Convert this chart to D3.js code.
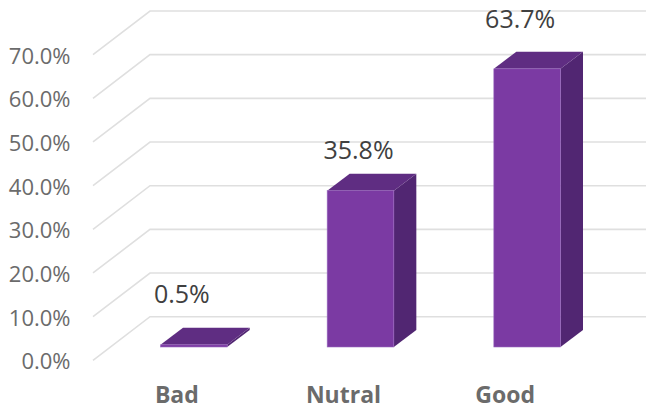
<!DOCTYPE html>
<html>
<head>
<meta charset="utf-8">
<script src="https://cdn.jsdelivr.net/npm/d3@7/dist/d3.min.js"></script>
<style>
  html, body { margin: 0; padding: 0; background: #fff; }
  svg { display: block; }
  text { font-family: "Open Sans", sans-serif; }
</style>
</head>
<body>
<svg id="chart" width="646" height="409"></svg>
<script>
const categories = ["Bad", "Nutral", "Good"];
const shares = [0.5, 35.8, 63.7];
const yTicks = [0, 10, 20, 30, 40, 50, 60, 70];

const width = 646, height = 409;

// Oblique projection: the wall sits behind the front plane by this offset.
const wallDepth = { dx: 57, dy: -43.6 };
// Bars stand part-way into the floor and have a shallower depth of their own.
const barInset = { dx: 17.5, dy: -13.3 };
const barDepth = { dx: 22.5, dy: -17 };

const y = d3.scaleLinear().domain([0, 70]).range([360.3, 54.6]);
const x = d3.scaleBand()
  .domain(categories)
  .range([93 + barInset.dx, 593 + barInset.dx])
  .paddingInner(0.6)
  .paddingOuter(0.3);

const svg = d3.select("#chart");

// Gridlines: a diagonal on the side wall, then a level run along the back wall.
const gridPath = d3.line();
svg.append("g")
  .selectAll("path")
  .data(yTicks)
  .join("path")
  .attr("d", t => gridPath([
    [93, y(t)],
    [93 + wallDepth.dx, y(t) + wallDepth.dy],
    [width, y(t) + wallDepth.dy]
  ]))
  .attr("fill", "none")
  .attr("stroke", "#dfdfdf")
  .attr("stroke-width", 1.6);

// Value axis: labels only, no domain line or tick marks.
const yAxis = d3.axisLeft(y)
  .tickValues(yTicks)
  .tickSize(0)
  .tickPadding(0)
  .tickFormat(t => t.toFixed(1) + "%");
const yAxisG = svg.append("g")
  .attr("transform", "translate(70.5,1.5)")
  .call(yAxis);
yAxisG.select(".domain").remove();
yAxisG.selectAll("text")
  .attr("fill", "#6b6b6b")
  .attr("font-size", 22)
  .style("font-family", '"Open Sans", sans-serif');

// Category axis: bold labels beneath the floor.
const xAxis = d3.axisBottom(x).tickSize(0).tickPadding(0);
const xAxisG = svg.append("g")
  .attr("transform", "translate(-17,386.7)")
  .call(xAxis);
xAxisG.select(".domain").remove();
xAxisG.selectAll("text")
  .attr("fill", "#6b6b6b")
  .attr("font-size", 23)
  .attr("font-weight", 700)
  .attr("dx", d => d === "Good" ? -5 : 0)
  .style("font-family", '"Open Sans", sans-serif');

// Each bar is three polygons: right side, top and front face.
const barBase = y(0) + barInset.dy;
const bars = svg.append("g")
  .selectAll("g")
  .data(categories.map((c, i) => ({ c, v: shares[i] })))
  .join("g");

const poly = pts => d3.line()(pts) + "Z";
const barLeft = d => x(d.c);
const barRight = d => x(d.c) + x.bandwidth();
const barTop = d => barBase - (y(0) - y(d.v));

bars.append("path")
  .attr("d", d => poly([
    [barRight(d), barBase],
    [barRight(d) + barDepth.dx, barBase + barDepth.dy],
    [barRight(d) + barDepth.dx, barTop(d) + barDepth.dy],
    [barRight(d), barTop(d)]
  ]))
  .attr("fill", "#512672");

bars.append("path")
  .attr("d", d => poly([
    [barLeft(d), barTop(d)],
    [barLeft(d) + barDepth.dx, barTop(d) + barDepth.dy],
    [barRight(d) + barDepth.dx, barTop(d) + barDepth.dy],
    [barRight(d), barTop(d)]
  ]))
  .attr("fill", "#5f2d82");

bars.append("rect")
  .attr("x", barLeft)
  .attr("y", barTop)
  .attr("width", x.bandwidth())
  .attr("height", d => barBase - barTop(d))
  .attr("fill", "#7b3aa3")
  .attr("stroke", "#9c6cc0")
  .attr("stroke-width", 0.6);

// Data labels above each bar, each nudged clear of its bar's top face.
const labelNudge = {
  Bad: { dx: -12, dy: -42 },
  Nutral: { dx: -2, dy: -31.7 },
  Good: { dx: -7, dy: -41 }
};
bars.append("text")
  .attr("x", d => barLeft(d) + x.bandwidth() / 2 + labelNudge[d.c].dx)
  .attr("y", d => barTop(d) + labelNudge[d.c].dy)
  .attr("text-anchor", "middle")
  .attr("fill", "#404040")
  .attr("font-size", 25)
  .text(d => d.v.toFixed(1) + "%");
</script>
</body>
</html>
